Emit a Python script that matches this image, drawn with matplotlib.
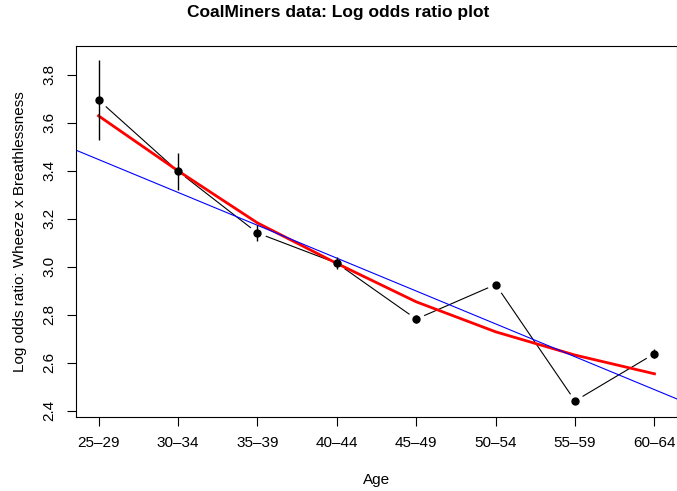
#!/usr/bin/env python3

import matplotlib
matplotlib.use("Agg")
import matplotlib.pyplot as plt
import numpy as np

# CoalMiners log odds ratios by age group
ageGroups = ["25\u201329", "30\u201334", "35\u201339", "40\u201344", "45\u201349", "50\u201354", "55\u201359", "60\u201364"]
logOdds = [3.695, 3.398, 3.141, 3.015, 2.782, 2.926, 2.441, 2.638]
halfBar = [0.166, 0.078, 0.035, 0.024, 0.015, 0.010, 0.008, 0.020]
quadFit = [3.629, 3.400, 3.183, 3.014, 2.854, 2.729, 2.632, 2.554]
linIntercept = 3.584
linSlope = -0.137

plt.rcParams["font.family"] = ["Liberation Sans", "DejaVu Sans"]

fig = plt.figure(figsize=(6.77, 4.91), dpi=100)
ax = fig.add_axes([76.3 / 677, 74 / 491, 600.4 / 677, 371 / 491])

x = np.arange(1, len(ageGroups) + 1)
y = np.array(logOdds)
err = np.array(halfBar)

# type="b" look: line, then white disks to open gaps around the points
ax.plot(x, y, color="black", lw=0.8, zorder=1)
ax.plot(x, y, "o", ms=12.5, mfc="white", mec="none", zorder=1.5)

ax.plot(x, quadFit, color="red", lw=2.0, zorder=2)
ax.axline((0, linIntercept), slope=linSlope, color="blue", lw=0.8, zorder=2.5)

ax.vlines(x, y - err, y + err, color="black", lw=1.0, zorder=3)
ax.plot(x, y, "o", ms=5, color="black", zorder=3.5)

ax.set_xlim(0.72, 8.28)
ax.set_ylim(2.374, 3.92)
ax.set_xticks(x)
ax.set_xticklabels(ageGroups)
ax.set_yticks([2.4, 2.6, 2.8, 3.0, 3.2, 3.4, 3.6, 3.8])
ax.set_yticklabels(["2.4", "2.6", "2.8", "3.0", "3.2", "3.4", "3.6", "3.8"],
                   rotation=90, va="center")

ax.tick_params(axis="both", length=6.5, width=0.8, labelsize=11)
ax.tick_params(axis="x", pad=7)
ax.tick_params(axis="y", pad=8)
for s in ax.spines.values():
	s.set_linewidth(0.8)

ax.set_xlabel("Age", fontsize=11, labelpad=17)
ax.set_ylabel("Log odds ratio: Wheeze x Breathlessness", fontsize=11, labelpad=11)
fig.suptitle("CoalMiners data: Log odds ratio plot", fontsize=12.5, fontweight="bold",
             x=0.5, y=1 - 5 / 491, va="top")

fig.savefig("out.png", dpi=100)
